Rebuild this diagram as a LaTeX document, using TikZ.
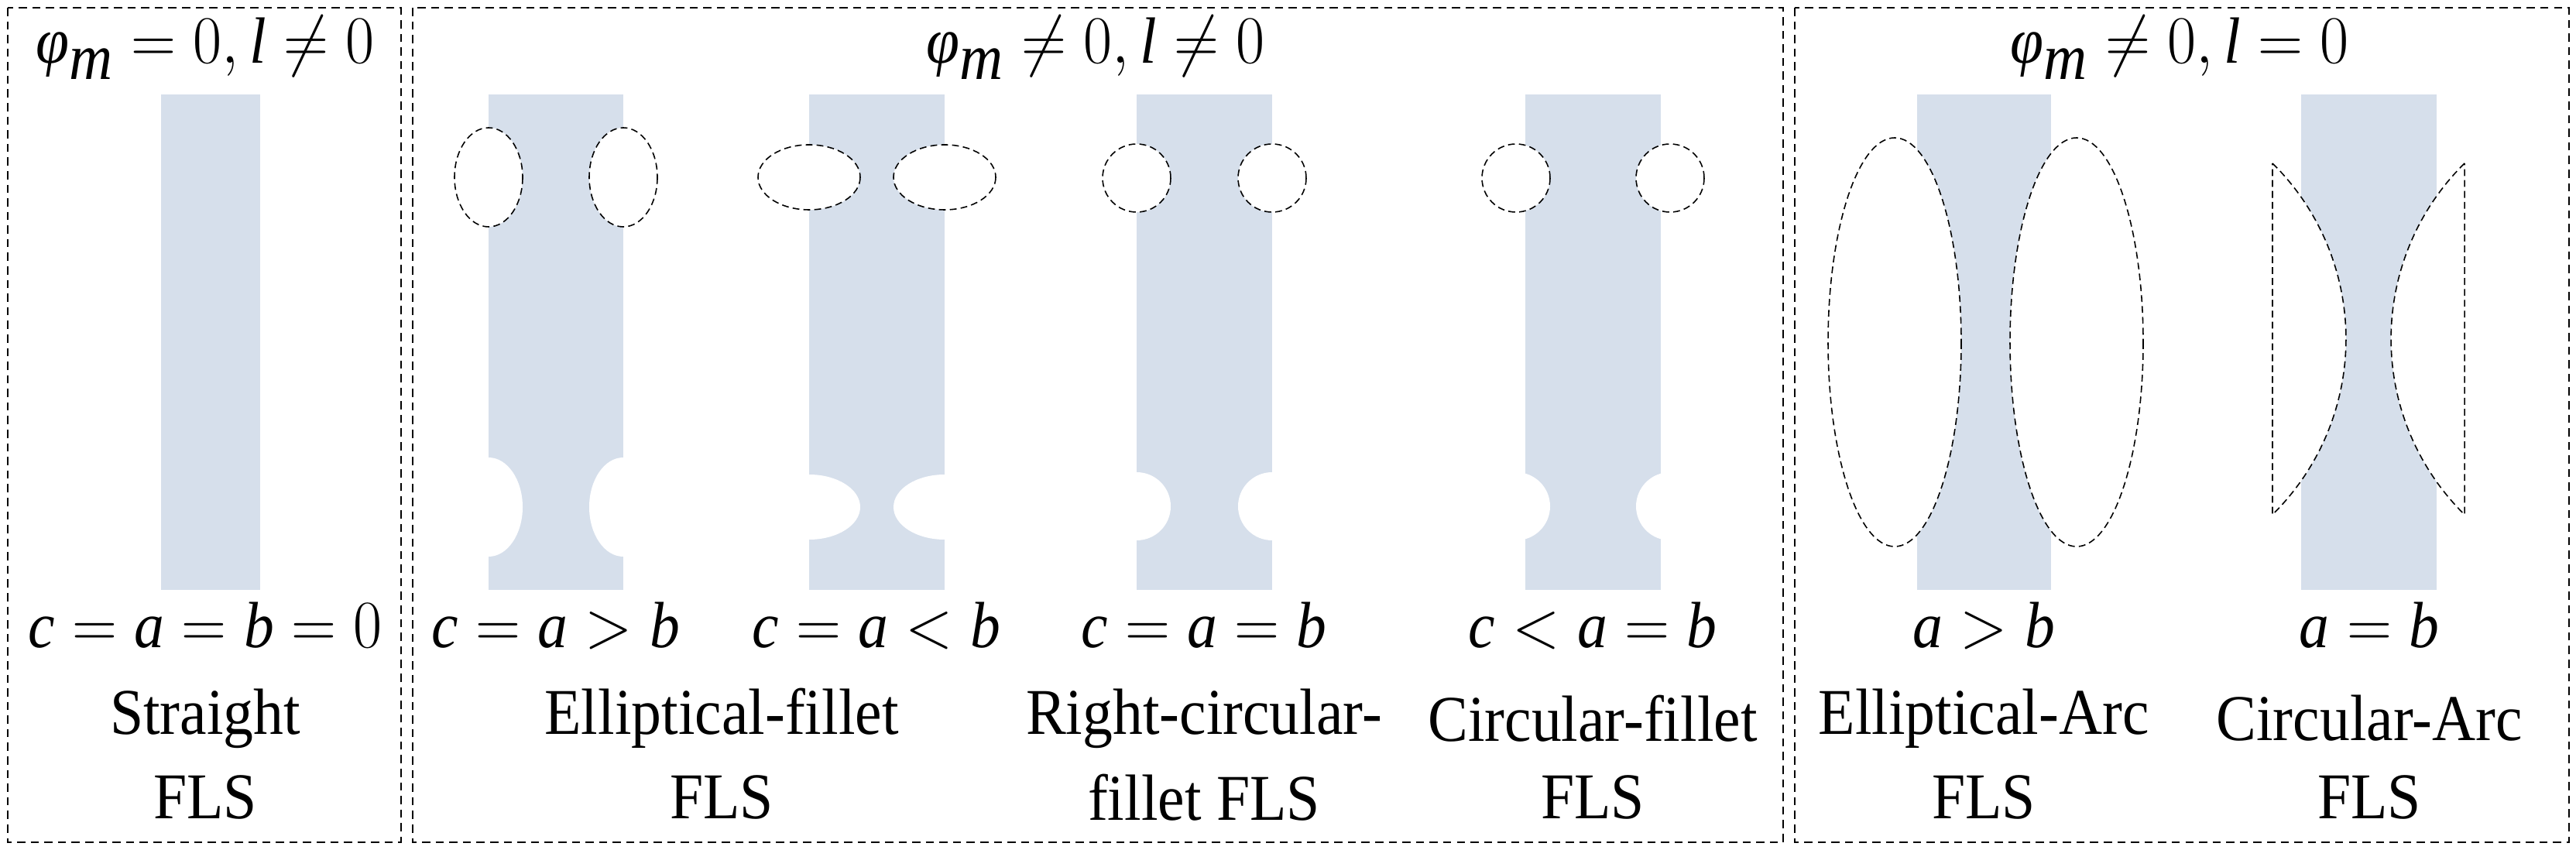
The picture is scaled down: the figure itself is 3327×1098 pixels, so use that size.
\documentclass[tikz,border=0pt]{standalone}
\usepackage{fontspec}
\setmainfont{Liberation Serif}
\newcommand\mv[1]{\textit{#1}}
\newcommand\sq[1]{\scalebox{0.92}[1]{#1}}
\begin{document}
\begin{tikzpicture}[x=0.01cm,y=0.01cm,yscale=-1,
  frame/.style={draw=black,line width=0.6pt,dash pattern=on 3pt off 2pt},
  bar/.style={fill={rgb,255:red,214;green,223;blue,235}},
  cut/.style={fill=white},
  dsh/.style={draw=black,line width=0.45pt,dash pattern=on 2.5pt off 1.5pt},
  lab/.style={font=\fontsize{24}{28}\selectfont,inner sep=0pt,anchor=center}]
\useasboundingbox (0,0) rectangle (3327,1098);
% frames
\draw[frame] (10,10) rectangle (518,1088);
\draw[frame] (533,10) rectangle (2303,1088);
\draw[frame] (2318,10) rectangle (3318,1088);
% straight
\fill[bar] (208,122) rectangle (336,762);
% elliptical fillet a>b
\fill[bar] (631,122) rectangle (805,762);
\foreach \cx in {631,805}{\fill[cut] (\cx,229) ellipse [x radius=44,y radius=64];
  \fill[cut] (\cx,655) ellipse [x radius=44,y radius=64];
  \draw[dsh] (\cx,229) ellipse [x radius=44,y radius=64];}
% elliptical fillet a<b
\fill[bar] (1045,122) rectangle (1220,762);
\foreach \cx in {1045,1220}{\fill[cut] (\cx,229) ellipse [x radius=66,y radius=42];
  \fill[cut] (\cx,655) ellipse [x radius=66,y radius=42];
  \draw[dsh] (\cx,229) ellipse [x radius=66,y radius=42];}
% right circular
\fill[bar] (1468,122) rectangle (1643,762);
\foreach \cx in {1468,1643}{\fill[cut] (\cx,230) circle [radius=44];
  \fill[cut] (\cx,654) circle [radius=44];
  \draw[dsh] (\cx,230) circle [radius=44];}
% circular fillet
\fill[bar] (1970,122) rectangle (2145,762);
\foreach \cx in {1958,2157}{\fill[cut] (\cx,230) circle [radius=44];
  \fill[cut] (\cx,654) circle [radius=44];
  \draw[dsh] (\cx,230) circle [radius=44];}
% elliptical arc
\fill[bar] (2476,122) rectangle (2649,762);
\foreach \cx in {2447,2682}{\fill[cut] (\cx,442) ellipse [x radius=86,y radius=264];
  \draw[dsh] (\cx,442) ellipse [x radius=86,y radius=264];}
% circular arc
\fill[bar] (2972,122) rectangle (3147,762);
\filldraw[cut,dsh] (2935,211) arc[start angle=-45.4,end angle=45.4,radius=318.7] -- cycle;
\filldraw[cut,dsh] (3183,211) arc[start angle=-134.6,end angle=-225.4,radius=318.7] -- cycle;
% labels
\node[lab] (t1) at (265,62) {\sq{$\mv{φ}_{\mv{m}}=0,\mv{l}\neq 0$}};
\node[lab] (t2) at (1415,62) {\sq{$\mv{φ}_{\mv{m}}\neq 0,\mv{l}\neq 0$}};
\node[lab] (t3) at (2815,62) {\sq{$\mv{φ}_{\mv{m}}\neq 0,\mv{l}=0$}};
\node[lab] (c1) at (265,808) {\sq{$\mv{c}=\mv{a}=\mv{b}=0$}};
\node[lab] (c2) at (718,808) {\sq{$\mv{c}=\mv{a}>\mv{b}$}};
\node[lab] (c3) at (1132,808) {\sq{$\mv{c}=\mv{a}<\mv{b}$}};
\node[lab] (c4) at (1555,808) {\sq{$\mv{c}=\mv{a}=\mv{b}$}};
\node[lab] (c5) at (2057,808) {\sq{$\mv{c}<\mv{a}=\mv{b}$}};
\node[lab] (c6) at (2562,808) {\sq{$\mv{a}>\mv{b}$}};
\node[lab] (c7) at (3060,808) {\sq{$\mv{a}=\mv{b}$}};
\node[lab] (n1a) at (265,928) {\sq{Straight}};
\node[lab] (n1b) at (265,1030) {\sq{FLS}};
\node[lab] (n2a) at (932,928) {\sq{Elliptical-fillet}};
\node[lab] (n2b) at (932,1030) {\sq{FLS}};
\node[lab] (n3a) at (1555,928) {\sq{Right-circular-}};
\node[lab] (n3b) at (1555,1030) {\sq{fillet FLS}};
\node[lab] (n4a) at (2057,928) {\sq{Circular-fillet}};
\node[lab] (n4b) at (2057,1030) {\sq{FLS}};
\node[lab] (n5a) at (2562,928) {\sq{Elliptical-Arc}};
\node[lab] (n5b) at (2562,1030) {\sq{FLS}};
\node[lab] (n6a) at (3060,928) {\sq{Circular-Arc}};
\node[lab] (n6b) at (3060,1030) {\sq{FLS}};
\end{tikzpicture}
\end{document}
